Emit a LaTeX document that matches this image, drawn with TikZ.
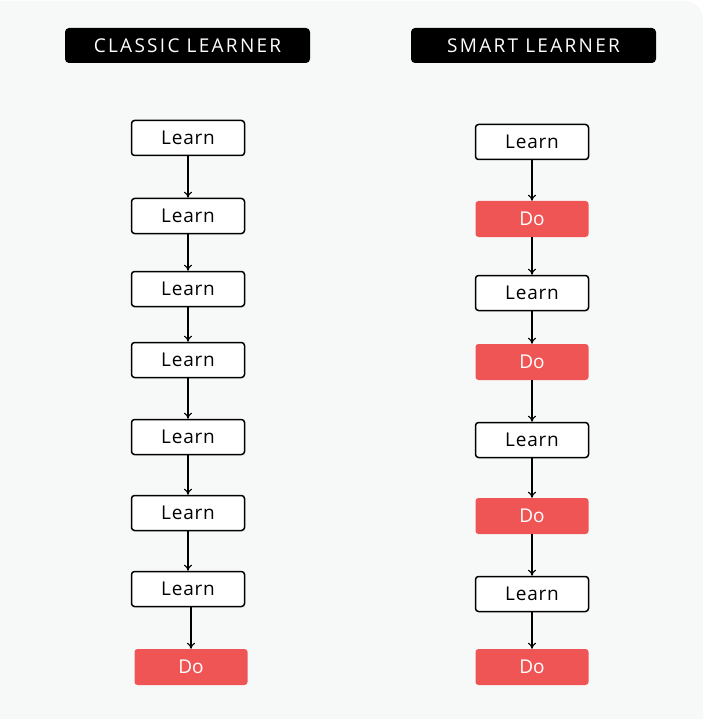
\documentclass[tikz,border=0pt]{standalone}
\usepackage{fontspec}
\setmainfont{Open Sans}
\usetikzlibrary{arrows.meta}
\definecolor{bg}{HTML}{F7F9F9}
\definecolor{dored}{HTML}{F05555}
\begin{document}
\begin{tikzpicture}[x=1pt,y=-1pt,
  learnbox/.style={draw=black,line width=1.5pt,fill=white,rounded corners=3pt,minimum width=113pt,minimum height=35pt,inner sep=0pt,font=\fontsize{19}{22}\selectfont\addfontfeature{LetterSpace=4}},
  dobox/.style={fill=dored,rounded corners=3pt,minimum width=113pt,minimum height=36pt,inner sep=0pt,text=white,font=\fontsize{19}{22}\selectfont},
  header/.style={fill=black,rounded corners=4pt,minimum width=245pt,minimum height=35pt,inner sep=0pt,text=white,font=\fontsize{19}{22}\selectfont\addfontfeature{LetterSpace=12}},
  flow/.style={-{To[length=6pt,width=8pt]},line width=1.1pt,black}]
\useasboundingbox (0,0) rectangle (705,719);
\fill[white] (0,0) rectangle (705,719);
\fill[bg,rounded corners=18pt] (-20,1) rectangle (703,740);
% headers
\node[header] (h1) at (187.5,45.5) {CLASSIC LEARNER};
\node[header] (h2) at (533.5,45.5) {SMART LEARNER};
% left column
\node[learnbox] (l1) at (188,138) {Learn};
\node[learnbox] (l2) at (188,216) {Learn};
\node[learnbox] (l3) at (188,289) {Learn};
\node[learnbox] (l4) at (188,360) {Learn};
\node[learnbox] (l5) at (188,437) {Learn};
\node[learnbox] (l6) at (188,513) {Learn};
\node[learnbox] (l7) at (188,589) {Learn};
\node[dobox] (l8) at (191,667) {Do};
\draw[flow] (l1) -- (l2);
\draw[flow] (l2) -- (l3);
\draw[flow] (l3) -- (l4);
\draw[flow] (l4) -- (l5);
\draw[flow] (l5) -- (l6);
\draw[flow] (l6) -- (l7);
\draw[flow] (l7.south -| l8.north) -- (l8.north);
% right column
\node[learnbox] (r1) at (532,142) {Learn};
\node[dobox] (r2) at (532,219) {Do};
\node[learnbox] (r3) at (532,293) {Learn};
\node[dobox] (r4) at (532,362) {Do};
\node[learnbox] (r5) at (532,440) {Learn};
\node[dobox] (r6) at (532,516) {Do};
\node[learnbox] (r7) at (532,594) {Learn};
\node[dobox] (r8) at (532,667) {Do};
\draw[flow] (r1) -- (r2);
\draw[flow] (r2) -- (r3);
\draw[flow] (r3) -- (r4);
\draw[flow] (r4) -- (r5);
\draw[flow] (r5) -- (r6);
\draw[flow] (r6) -- (r7);
\draw[flow] (r7) -- (r8);
\end{tikzpicture}
\end{document}
